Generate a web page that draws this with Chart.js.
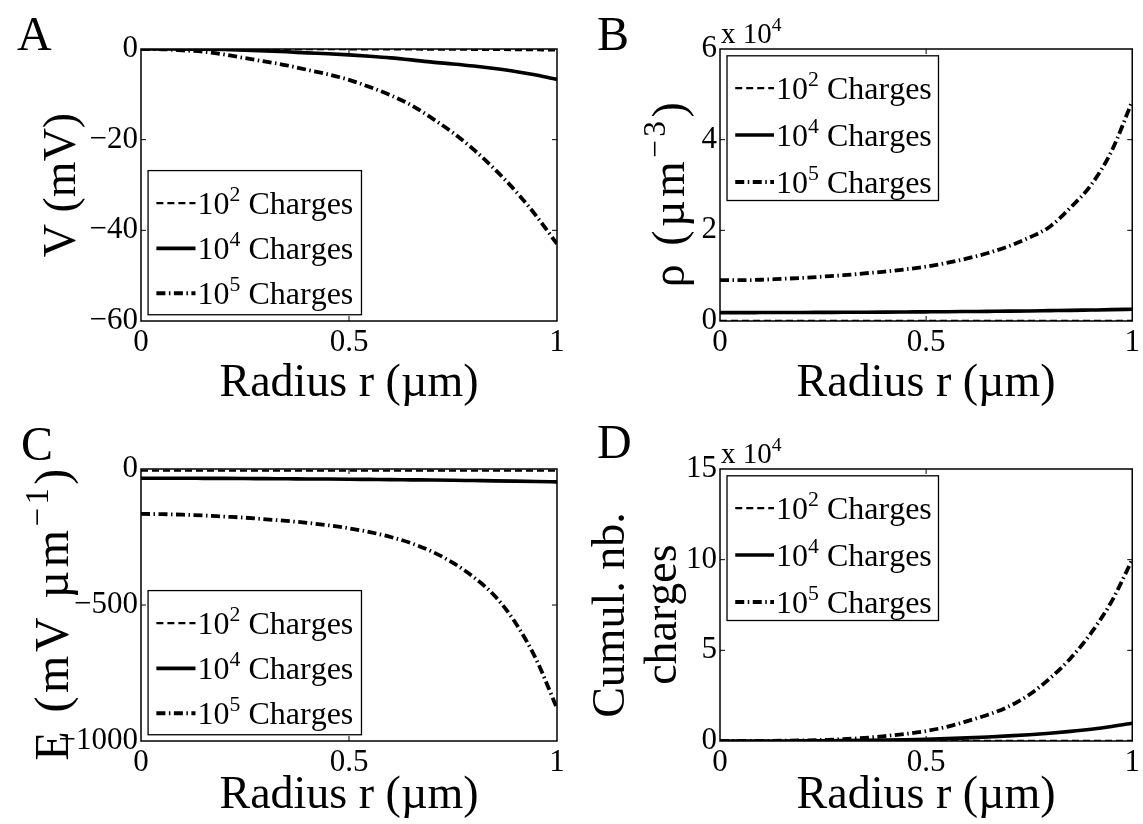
<!DOCTYPE html>
<html>
<head>
<meta charset="utf-8">
<script src="https://cdn.jsdelivr.net/npm/chart.js@4.4.1/dist/chart.umd.min.js"></script>
<style>
  html, body { margin: 0; padding: 0; background: #fff; }
  #wrap { position: relative; width: 1143px; height: 824px; overflow: hidden; }
  canvas { position: absolute; }
</style>
</head>
<body>
<div id="wrap">
  <canvas id="panelA" width="571" height="412" style="left:0;top:0"></canvas>
  <canvas id="panelB" width="572" height="412" style="left:571px;top:0"></canvas>
  <canvas id="panelC" width="571" height="412" style="left:0;top:412px"></canvas>
  <canvas id="panelD" width="572" height="412" style="left:571px;top:412px"></canvas>
</div>
<script>
// radius samples (um)
const radius = [0, 0.05, 0.1, 0.15, 0.2, 0.25, 0.3, 0.35, 0.4, 0.45, 0.5,
                0.55, 0.6, 0.65, 0.7, 0.75, 0.8, 0.85, 0.9, 0.95, 1];

// A: potential V (mV)
const potential100 = [0, 0, 0, 0, 0, -0.01, -0.01, -0.02, -0.03, -0.04, -0.05,
                      -0.06, -0.08, -0.1, -0.12, -0.14, -0.17, -0.2, -0.23, -0.26, -0.3];
const potential1e4 = [0, 0, -0.02, -0.05, -0.12, -0.25, -0.42, -0.62, -0.85, -1.05, -1.3,
                      -1.6, -1.95, -2.4, -2.9, -3.3, -3.75, -4.3, -4.95, -5.75, -6.7];
const potential1e5 = [0, -0.05, -0.3, -0.6, -1.2, -2.0, -2.8, -3.6, -4.6, -5.6, -6.8,
                      -8.4, -10.2, -12.4, -15.3, -18.5, -22.2, -26.5, -31.3, -36.8, -43];

// B: charge density rho (um^-3)
const density100 = [24, 24, 24, 24, 24, 24, 24, 24, 24, 24, 24,
                    24, 24, 24, 24, 24, 24, 24, 24, 24, 24];
const density1e4 = [1850, 1850, 1860, 1870, 1880, 1900, 1920, 1940, 1960, 1990, 2020,
                    2050, 2090, 2130, 2170, 2220, 2280, 2340, 2420, 2500, 2600];
const density1e5 = [9000, 9000, 9100, 9300, 9500, 9800, 10100, 10500, 10900, 11400, 12000,
                    12800, 13800, 15000, 16500, 18400, 20800, 25000, 30000, 37500, 48500];

// C: electric field E (mV/um)
const field100 = [-6, -6, -6, -6, -6, -6, -6, -6, -6, -6, -6,
                  -6, -6, -6, -6, -6, -6, -6, -6, -6, -6];
const field1e4 = [-34, -34, -34, -34.3, -34.6, -35, -35.5, -36, -36.5, -37, -37.6,
                  -38.3, -39, -39.8, -40.6, -41.5, -42.5, -43.5, -44.7, -46, -47.5];
const field1e5 = [-165, -166, -168, -171, -175, -179, -185, -191, -198, -207, -218,
                  -232, -250, -273, -304, -345, -398, -466, -565, -700, -880];

// D: cumulative number of charges
const cumul100 = [0, 0, 0, 0, 1, 1, 2, 3, 5, 7, 10,
                  13, 17, 22, 28, 35, 44, 54, 66, 80, 98];
const cumul1e4 = [0, 1, 8, 26, 61, 119, 206, 330, 495, 710, 990,
                  1330, 1740, 2230, 2810, 3480, 4300, 5300, 6500, 8000, 9800];
const cumul1e5 = [0, 5, 40, 130, 300, 600, 1000, 1700, 2700, 3900, 5500,
                  7800, 11000, 14500, 19000, 25500, 34500, 45500, 59500, 77000, 100000];

// axis ticks
const xTicks = [0, 0.5, 1];
const xTickLabels = ['0', '0.5', '1'];
const yTicksA = [-60, -40, -20, 0];
const yTickLabelsA = ['\u221260', '\u221240', '\u221220', '0'];
const yTicksB = [0, 20000, 40000, 60000];
const yTickLabelsB = ['0', '2', '4', '6'];
const yTicksC = [-1000, -500, 0];
const yTickLabelsC = ['\u22121000', '\u2212500', '0'];
const yTicksD = [0, 50000, 100000, 150000];
const yTickLabelsD = ['0', '5', '10', '15'];

const legendExponents = ['2', '4', '5'];

const FONT = '"Liberation Serif", "Times New Roman", serif';
const lineStyles = [
  { borderWidth: 2.3, borderDash: [7, 4] },
  { borderWidth: 3.6, borderDash: [] },
  { borderWidth: 3.8, borderDash: [9, 3.5, 1.5, 3.5] }
];

function series(values, k) {
  return {
    label: '10^' + legendExponents[k] + ' Charges',
    data: radius.map((r, i) => ({ x: r, y: values[i] })),
    borderColor: '#000',
    backgroundColor: '#000',
    borderWidth: lineStyles[k].borderWidth,
    borderDash: lineStyles[k].borderDash,
    pointRadius: 0,
    cubicInterpolationMode: 'monotone',
    fill: false
  };
}

// text with superscripts: parts = [{t, sup}]
function richWidth(ctx, parts, size, gap) {
  let w = 0;
  for (const p of parts) {
    ctx.font = (p.sup ? size * 0.68 : size) + 'px ' + FONT;
    w += ctx.measureText(p.t).width + (gap || 0) * p.t.length;
  }
  return w;
}
function drawRich(ctx, parts, x, y, size, gap) {
  let cx = x;
  ctx.textAlign = 'left';
  ctx.textBaseline = 'alphabetic';
  for (const p of parts) {
    const fs = p.sup ? size * 0.68 : size;
    ctx.font = fs + 'px ' + FONT;
    for (const ch of p.t) {
      ctx.fillText(ch, cx, p.sup ? y - size * 0.42 : y);
      cx += ctx.measureText(ch).width + (gap || 0);
    }
  }
}

const matlabLook = {
  id: 'matlab',
  afterDraw(chart, args, opts) {
    const ctx = chart.ctx;
    const a = chart.chartArea;
    const w = a.right - a.left, h = a.bottom - a.top;
    ctx.save();
    ctx.fillStyle = '#000';
    ctx.strokeStyle = '#000';

    // inner ticks on all four sides
    ctx.lineWidth = 1;
    const tl = 5;
    ctx.beginPath();
    chart.scales.x.ticks.forEach(t => {
      const px = chart.scales.x.getPixelForValue(t.value);
      if (px <= a.left + 1 || px >= a.right - 1) return;
      ctx.moveTo(px, a.bottom); ctx.lineTo(px, a.bottom - tl);
      ctx.moveTo(px, a.top); ctx.lineTo(px, a.top + tl);
    });
    chart.scales.y.ticks.forEach(t => {
      const py = chart.scales.y.getPixelForValue(t.value);
      if (py <= a.top + 1 || py >= a.bottom - 1) return;
      ctx.moveTo(a.left, py); ctx.lineTo(a.left + tl, py);
      ctx.moveTo(a.right, py); ctx.lineTo(a.right - tl, py);
    });
    ctx.stroke();

    // axes box
    ctx.lineWidth = 1.5;
    ctx.strokeRect(a.left, a.top, w, h);

    // legend
    const lg = opts.legend;
    const bx0 = a.left + lg.x0 * w, bx1 = a.left + lg.x1 * w;
    const by0 = a.top + lg.y0 * h, by1 = a.top + lg.y1 * h;
    ctx.fillStyle = '#fff';
    ctx.fillRect(bx0, by0, bx1 - bx0, by1 - by0);
    ctx.lineWidth = 1.3;
    ctx.strokeRect(bx0, by0, bx1 - bx0, by1 - by0);
    ctx.fillStyle = '#000';
    chart.data.datasets.forEach((ds, i) => {
      const ry = a.top + lg.rows[i] * h;
      ctx.save();
      ctx.lineWidth = ds.borderWidth;
      ctx.setLineDash(ds.borderDash || []);
      ctx.beginPath();
      ctx.moveTo(a.left + 0.037 * w, ry);
      ctx.lineTo(a.left + 0.131 * w, ry);
      ctx.stroke();
      ctx.restore();
      drawRich(ctx, [{ t: '10' }, { t: legendExponents[i], sup: true }, { t: ' Charges' }],
        a.left + 0.136 * w, ry + 11, 32);
    });

    // y axis title (rotated, may have superscripts, may be multi-line)
    const yt = opts.yTitle;
    yt.lines.forEach((parts, li) => {
      const tw = richWidth(ctx, parts, yt.size, yt.gap);
      ctx.save();
      ctx.translate(yt.x + li * yt.lineGap, a.top + h / 2 + (yt.dy || 0));
      ctx.rotate(-Math.PI / 2);
      drawRich(ctx, parts, -tw / 2, yt.size * 0.33, yt.size, yt.gap);
      ctx.restore();
    });

    // exponent label above the axis
    if (opts.exponent) {
      drawRich(ctx, [{ t: 'x 10' }, { t: opts.exponent, sup: true }], a.left + 1, a.top - 6, 29);
    }

    // panel letter
    ctx.font = '48px ' + FONT;
    ctx.textAlign = 'left';
    ctx.textBaseline = 'alphabetic';
    ctx.fillText(opts.letter.t, opts.letter.x, opts.letter.y);
    ctx.restore();
  }
};

function makePanel(id, sets, yMin, yMax, yTicks, yLabels, box, extra) {
  const tickFont = { family: FONT, size: 31 };
  return new Chart(document.getElementById(id), {
    type: 'line',
    data: { datasets: sets },
    options: {
      responsive: false,
      animation: false,
      layout: { padding: { top: box.top, right: box.right, left: 0, bottom: 0 } },
      plugins: {
        legend: { display: false },
        tooltip: { enabled: false },
        matlab: extra
      },
      scales: {
        x: {
          type: 'linear', min: 0, max: 1,
          afterBuildTicks: s => { s.ticks = xTicks.map(v => ({ value: v })); },
          afterFit: s => { s.height = box.xHeight; },
          ticks: {
            font: tickFont, color: '#000', padding: 3, maxRotation: 0, autoSkip: false,
            callback: (v, i) => xTickLabels[i]
          },
          grid: { display: false, drawTicks: false },
          border: { display: false },
          title: { display: true, text: 'Radius r (\u00b5m)', color: '#000',
                   font: { family: FONT, size: 46 }, padding: { top: 0, bottom: 0 } }
        },
        y: {
          type: 'linear', min: yMin, max: yMax,
          afterBuildTicks: s => { s.ticks = yTicks.map(v => ({ value: v })); },
          afterFit: s => { s.width = box.yWidth; },
          ticks: {
            font: tickFont, color: '#000', padding: 3, autoSkip: false,
            callback: (v, i) => yLabels[i]
          },
          grid: { display: false, drawTicks: false },
          border: { display: false }
        }
      }
    },
    plugins: [matlabLook]
  });
}

const legendBottom = { x0: 0.017, x1: 0.53, y0: 0.447, y1: 0.977, rows: [0.567, 0.733, 0.898] };
const legendTop = { x0: 0.017, x1: 0.53, y0: 0.025, y1: 0.557, rows: [0.144, 0.316, 0.489] };

makePanel('panelA',
  [series(potential100, 0), series(potential1e4, 1), series(potential1e5, 2)],
  -60, 0, yTicksA, yTickLabelsA,
  { top: 49, right: 14, xHeight: 91, yWidth: 141 },
  { legend: legendBottom, letter: { t: 'A', x: 17, y: 50 },
    yTitle: { x: 60, size: 46, lineGap: 0, lines: [[{ t: 'V (mV)' }]] } });

makePanel('panelB',
  [series(density100, 0), series(density1e4, 1), series(density1e5, 2)],
  0, 60000, yTicksB, yTickLabelsB,
  { top: 49, right: 10, xHeight: 91, yWidth: 149 },
  { legend: legendTop, letter: { t: 'B', x: 26, y: 50 }, exponent: '4',
    yTitle: { x: 98, size: 46, lineGap: 0, gap: 3.5, dy: 8,
              lines: [[{ t: '\u03c1 (\u00b5m' }, { t: '\u22123', sup: true }, { t: ')' }]] } });

makePanel('panelC',
  [series(field100, 0), series(field1e4, 1), series(field1e5, 2)],
  -1000, 0, yTicksC, yTickLabelsC,
  { top: 57, right: 14, xHeight: 83, yWidth: 141 },
  { legend: legendBottom, letter: { t: 'C', x: 21, y: 48 },
    yTitle: { x: 52, size: 48, lineGap: 0, gap: 3.5, dy: 8,
              lines: [[{ t: 'E (mV \u00b5m' }, { t: '\u22121', sup: true }, { t: ')' }]] } });

makePanel('panelD',
  [series(cumul100, 0), series(cumul1e4, 1), series(cumul1e5, 2)],
  0, 150000, yTicksD, yTickLabelsD,
  { top: 57, right: 10, xHeight: 83, yWidth: 149 },
  { legend: legendTop, letter: { t: 'D', x: 26, y: 46 }, exponent: '4',
    yTitle: { x: 38, size: 46, lineGap: 52, dy: 10,
              lines: [[{ t: 'Cumul. nb.' }], [{ t: 'charges' }]] } });
</script>
</body>
</html>
